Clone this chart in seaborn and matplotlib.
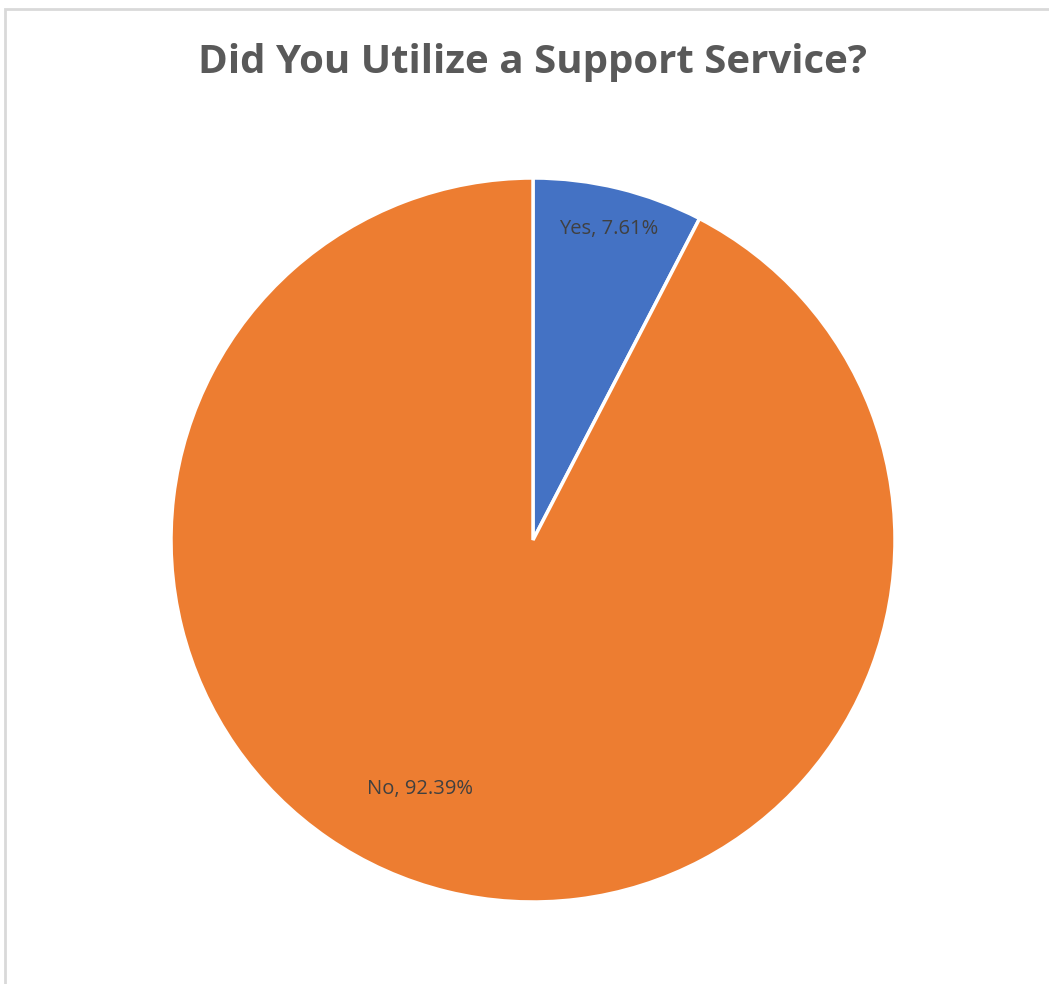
import matplotlib
matplotlib.use("Agg")
import matplotlib.pyplot as plt
from matplotlib.patches import Rectangle
import numpy as np
import seaborn as sns

# Survey responses
categories = ["Yes", "No"]
shares = [7.61, 92.39]
colors = ["#4472C4", "#ED7D31"]

sns.set_theme(style="white")
plt.rcParams["font.family"] = ["Open Sans", "DejaVu Sans"]

W, H = 1049, 984
fig = plt.figure(figsize=(W / 100, H / 100), dpi=100)

# Chart-area frame (light gray, bleeding off the right and bottom edges)
fig.add_artist(Rectangle((5 / W, -0.05), 1.1, (H - 9) / H + 0.05,
                         transform=fig.transFigure, fill=False,
                         edgecolor="#d9d9d9", linewidth=2))

cx, cy, r = 533, 540, 362
ax = fig.add_axes([(cx - r) / W, (H - cy - r) / H, 2 * r / W, 2 * r / H])

labels = [f"{c}, {v:.2f}%" for c, v in zip(categories, shares)]
wedges, texts = ax.pie(shares, colors=colors, startangle=90, counterclock=False,
                       labels=labels, labeldistance=0.885,
                       wedgeprops=dict(edgecolor="white", linewidth=2.5),
                       textprops=dict(color="#404040", fontsize=14.5))
for t in texts:
    t.set_ha("center")
    t.set_va("center")

# "No" label sits lower-left inside its slice
ang = np.deg2rad(-114.4)
texts[1].set_position((0.755 * np.cos(ang), 0.755 * np.sin(ang)))

ax.set_xlim(-1, 1)
ax.set_ylim(-1, 1)
ax.set_aspect("equal")
ax.axis("off")

fig.text(cx / W, 1 - 63 / H, "Did You Utilize a Support Service?",
         ha="center", va="center", fontsize=29, fontweight="bold", color="#595959")

fig.savefig("out.png", dpi=100, facecolor="white")
